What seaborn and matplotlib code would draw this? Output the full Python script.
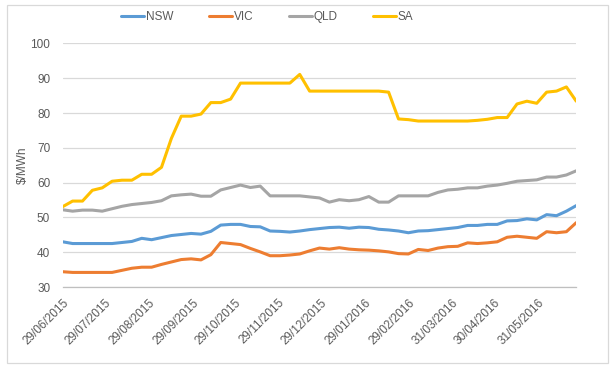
# Weekly average spot prices by region, Jun 2015 - Jun 2016
import pandas as pd
import seaborn as sns
import matplotlib.pyplot as plt
import matplotlib.dates as mdates
from matplotlib.patches import Rectangle

# Week starting dates (53 weeks from 29/06/2015)
start_date = '2015-06-29'
n_weeks = 53

nsw = [43.0, 42.5, 42.5, 42.5, 42.5, 42.5, 42.8, 43.1, 44.0, 43.6,
       44.2, 44.8, 45.1, 45.4, 45.2, 46.0, 47.8, 48.0, 48.0, 47.4,
       47.3, 46.1, 46.0, 45.8, 46.1, 46.5, 46.8, 47.1, 47.2, 46.9,
       47.2, 47.1, 46.6, 46.4, 46.1, 45.6, 46.1, 46.2, 46.5, 46.8,
       47.1, 47.7, 47.7, 48.0, 48.0, 49.0, 49.1, 49.6, 49.3, 50.8,
       50.5, 51.8, 53.4]
vic = [34.4, 34.2, 34.2, 34.2, 34.2, 34.2, 34.8, 35.4, 35.7, 35.7,
       36.5, 37.2, 37.9, 38.1, 37.8, 39.3, 42.8, 42.5, 42.2, 41.1,
       40.1, 39.0, 39.0, 39.2, 39.5, 40.4, 41.2, 40.9, 41.3, 40.9,
       40.7, 40.6, 40.4, 40.1, 39.6, 39.5, 40.8, 40.5, 41.2, 41.6,
       41.7, 42.7, 42.5, 42.7, 43.0, 44.3, 44.6, 44.3, 44.0, 45.9,
       45.6, 45.9, 48.5]
qld = [52.2, 51.8, 52.1, 52.1, 51.8, 52.5, 53.2, 53.7, 54.0, 54.3,
       54.8, 56.2, 56.5, 56.7, 56.1, 56.1, 57.9, 58.6, 59.3, 58.6,
       59.0, 56.2, 56.2, 56.2, 56.2, 55.9, 55.6, 54.4, 55.1, 54.8,
       55.1, 56.0, 54.4, 54.4, 56.2, 56.2, 56.2, 56.2, 57.2, 57.9,
       58.1, 58.5, 58.5, 59.0, 59.3, 59.8, 60.4, 60.6, 60.8, 61.6,
       61.6, 62.2, 63.4]
sa = [53.1, 54.7, 54.7, 57.8, 58.5, 60.4, 60.7, 60.7, 62.4, 62.4,
      64.4, 72.7, 79.1, 79.1, 79.7, 83.0, 83.0, 84.0, 88.6, 88.6,
      88.6, 88.6, 88.6, 88.6, 91.1, 86.3, 86.3, 86.3, 86.3, 86.3,
      86.3, 86.3, 86.3, 86.0, 78.3, 78.1, 77.7, 77.7, 77.7, 77.7,
      77.7, 77.7, 77.9, 78.2, 78.7, 78.7, 82.6, 83.4, 82.8, 86.0,
      86.3, 87.5, 83.4]

regions = ['NSW', 'VIC', 'QLD', 'SA']
colors = ['#5B9BD5', '#ED7D31', '#A5A5A5', '#FFC000']

tick_labels = ['29/06/2015', '29/07/2015', '29/08/2015', '29/09/2015',
               '29/10/2015', '29/11/2015', '29/12/2015', '29/01/2016',
               '29/02/2016', '31/03/2016', '30/04/2016', '31/05/2016']

# Build long-format table
dates = pd.date_range(start_date, periods=n_weeks, freq='7D')
frames = []
for name, vals in zip(regions, [nsw, vic, qld, sa]):
    frames.append(pd.DataFrame({'Date': dates, 'Price': vals, 'Region': name}))
df = pd.concat(frames, ignore_index=True)

sns.set_style('white')
plt.rcParams['font.family'] = ['Liberation Sans', 'DejaVu Sans']

text_col = '#595959'
grid_col = '#D9D9D9'
fs = 8.5

fig = plt.figure(figsize=(6.15, 3.68), dpi=100)
ax = fig.add_axes([0.102, 0.220, 0.835, 0.662])

sns.lineplot(data=df, x='Date', y='Price', hue='Region', hue_order=regions,
             palette=colors, linewidth=2.2, ax=ax)

# Axes styling
ax.set_ylim(30, 100)
ax.set_yticks(range(30, 101, 10))
ax.set_xlim(dates[0], dates[-1])
ax.yaxis.grid(True, color=grid_col, linewidth=0.9)
ax.set_axisbelow(True)
for s in ['left', 'top', 'right']:
    ax.spines[s].set_visible(False)
ax.spines['bottom'].set_color('#BFBFBF')
ax.spines['bottom'].set_linewidth(0.9)

tick_dates = pd.to_datetime(tick_labels, format='%d/%m/%Y')
ax.set_xticks(mdates.date2num(tick_dates))
ax.set_xticklabels(tick_labels, rotation=45, ha='right', rotation_mode='anchor')
ax.tick_params(axis='x', direction='out', length=4, width=0.9, color='#BFBFBF',
               labelsize=fs, labelcolor=text_col, pad=3)
ax.tick_params(axis='y', length=0, labelsize=fs, labelcolor=text_col, pad=9)

ax.set_xlabel('')
ax.set_ylabel('$/MWh', fontsize=fs, color=text_col, labelpad=1)

# Legend on top
handles, labels = ax.get_legend_handles_labels()
ax.get_legend().remove()
fig.legend(handles, labels, loc='center', bbox_to_anchor=(0.435, 0.954),
           ncol=4, frameon=False, fontsize=fs, labelcolor=text_col,
           handlelength=1.95, handletextpad=0.15, columnspacing=3.0)

# Chart area border
fig.patches.append(Rectangle((7 / 615, 5 / 368), 601 / 615, 358 / 368,
                             transform=fig.transFigure, fill=False,
                             edgecolor=grid_col, linewidth=0.9))

plt.savefig('out.png', dpi=100)
